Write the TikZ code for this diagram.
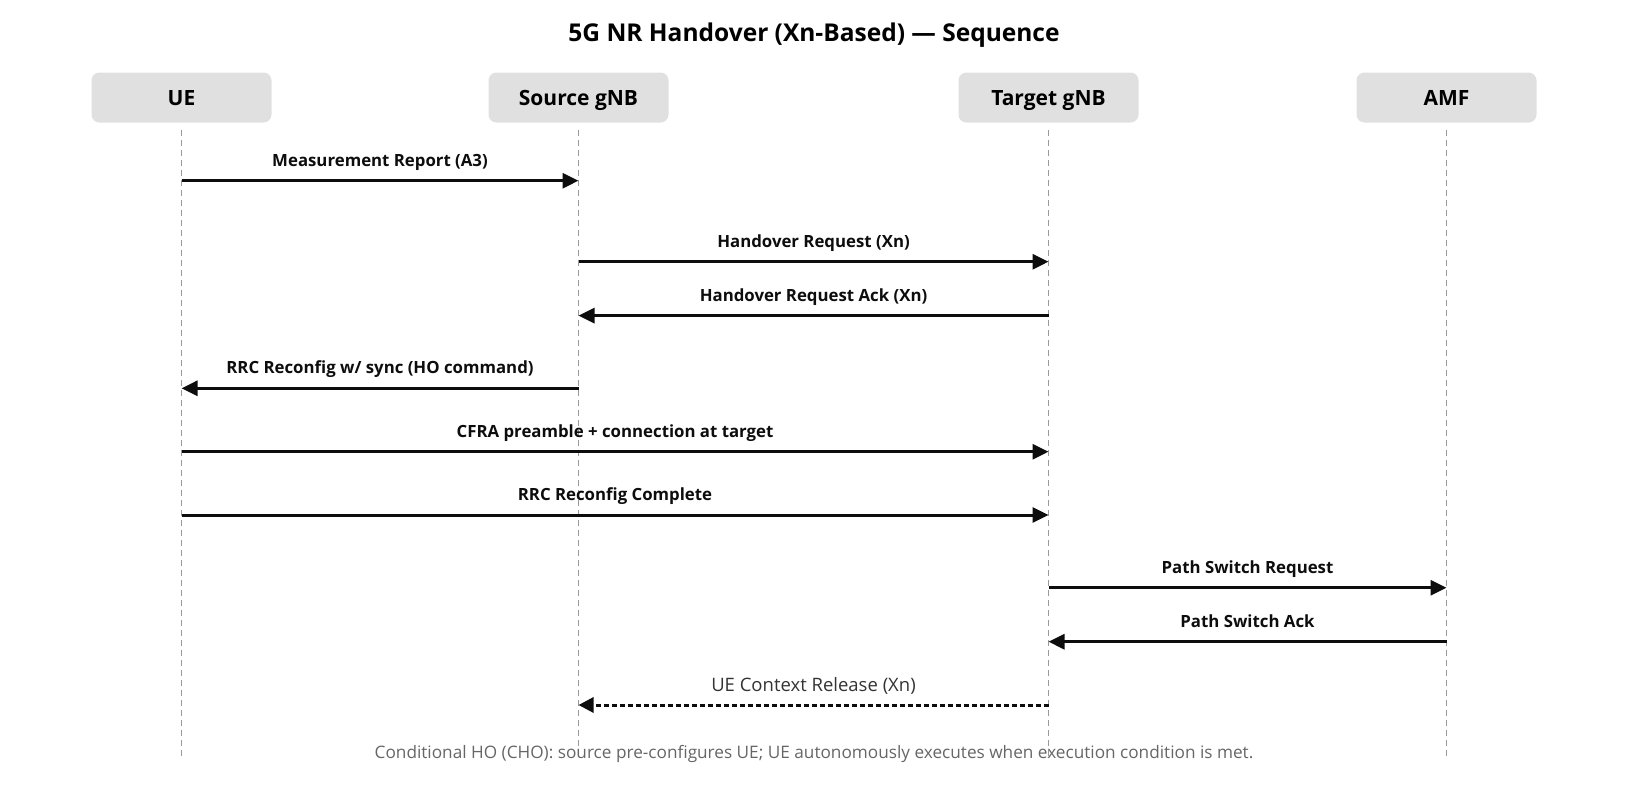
\documentclass[tikz,border=0pt]{standalone}
\usepackage{fontspec}
\setmainfont{Open Sans}
\usetikzlibrary{arrows.meta}
\definecolor{boxgray}{HTML}{E0E0E0}
\definecolor{lifegray}{HTML}{999999}
\definecolor{notegray}{HTML}{666666}
\definecolor{dashgray}{HTML}{333333}
\begin{document}
\begin{tikzpicture}[x=1pt,y=-1pt,
  actor/.style={fill=boxgray,rounded corners=8pt,minimum width=180pt,minimum height=50pt,inner sep=0pt,text height=15pt,text depth=0pt,font=\fontsize{21}{24}\selectfont\bfseries},
  life/.style={draw=lifegray,line width=1.2pt,dash pattern=on 6pt off 4pt},
  msg/.style={draw=black!95,line width=3pt,-{Triangle[length=16pt,width=15pt]}},
  dmsg/.style={draw=black!95,line width=3pt,dash pattern=on 5pt off 3pt,-{Triangle[length=15pt,width=15pt]}},
  lbl/.style={font=\fontsize{16.8}{19}\selectfont\bfseries,text=black!95,inner sep=0pt,anchor=base,yshift=14.5pt},
  dlbl/.style={font=\fontsize{18.5}{20}\selectfont,text=dashgray,inner sep=0pt,anchor=base,yshift=13.5pt}]
\useasboundingbox (0,0) rectangle (1628,796);
\node[font=\fontsize{24.5}{28}\selectfont\bfseries] (title) at (814,35) {5G NR Handover (Xn-Based) — Sequence};
\node[actor] (ue) at (181.5,97.5) {UE};
\node[actor] (src) at (578.5,97.5) {Source gNB};
\node[actor] (tgt) at (1048.5,97.5) {Target gNB};
\node[actor] (amf) at (1446.5,97.5) {AMF};
\foreach \n/\x in {ue/181.5,src/578.5,tgt/1048.5,amf/1446.5}{
  \coordinate (\n top) at (\x,130);
  \coordinate (\n bot) at (\x,758);
  \draw[life] (\n top) -- (\n bot);
}
\foreach \n/\x in {ue/181.5,src/578.5,tgt/1048.5,amf/1446.5}{
  \foreach \i/\y in {1/180.7,2/261.7,3/315.6,4/388.3,5/451.7,6/515,7/587.7,8/641.7,9/705}{
    \coordinate (\n\i) at (\x,\y);
  }
}
\draw[msg] (ue1) -- node[lbl] {Measurement Report (A3)} (src1);
\draw[msg] (src2) -- node[lbl] {Handover Request (Xn)} (tgt2);
\draw[msg] (tgt3) -- node[lbl] {Handover Request Ack (Xn)} (src3);
\draw[msg] (src4) -- node[lbl] {RRC Reconfig w/ sync (HO command)} (ue4);
\draw[msg] (ue5) -- node[lbl] {CFRA preamble + connection at target} (tgt5);
\draw[msg] (ue6) -- node[lbl] {RRC Reconfig Complete} (tgt6);
\draw[msg] (tgt7) -- node[lbl] {Path Switch Request} (amf7);
\draw[msg] (amf8) -- node[lbl] {Path Switch Ack} (tgt8);
\draw[dmsg] (tgt9) -- node[dlbl] {UE Context Release (Xn)} (src9);
\node[font=\fontsize{17.2}{19}\selectfont,text=notegray] (note) at (814,753.8) {Conditional HO (CHO): source pre-configures UE; UE autonomously executes when execution condition is met.};
\end{tikzpicture}
\end{document}
